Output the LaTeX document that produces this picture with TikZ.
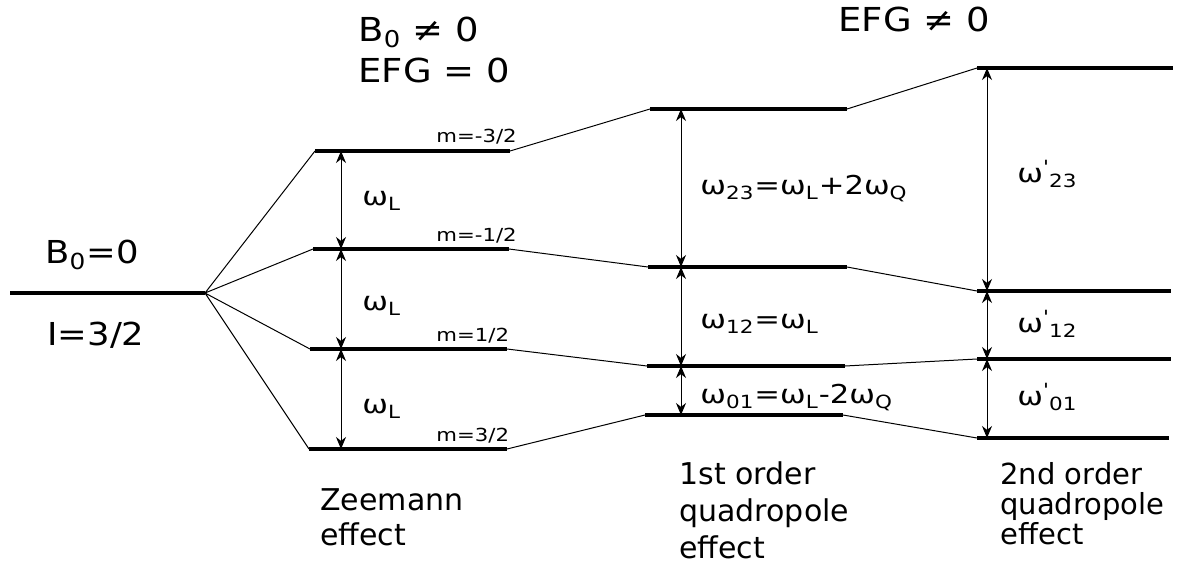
\documentclass[tikz,border=0pt]{standalone}
\usepackage{fontspec}
\setmainfont{DejaVu Sans}
\newfontfamily\headfont{DejaVu Sans}[FakeStretch=1.12]
\newfontfamily\freqfont{DejaVu Sans}[FakeStretch=1.18]
\usetikzlibrary{arrows.meta,calc,positioning}
\tikzset{level/.style={line width=2pt},
  split/.style={line width=0.5pt},
  gap/.style={<->, line width=0.5pt},
  head/.style={font=\headfont\fontsize{16.5}{20.5}\selectfont, anchor=base west, inner sep=0pt, align=left},
  spin/.style={font=\headfont\fontsize{15.8}{18}\selectfont, anchor=base west, inner sep=0pt},
  freq/.style={font=\freqfont\fontsize{13}{15}\selectfont, anchor=base west, inner sep=0pt},
  mlabel/.style={font=\freqfont\fontsize{9}{10}\selectfont, anchor=base west, inner sep=0pt},
  effect/.style={font=\fontsize{15}{17.5}\selectfont, anchor=north west, inner sep=0pt, align=left}}
\newcommand{\om}[1]{ω\textsubscript{#1}}
\newcommand{\omp}[1]{ω\textsuperscript{\textquotesingle}\textsubscript{#1}}

\begin{document}
\begin{tikzpicture}[x=0.5pt, y=-0.5pt, >={Stealth[length=6pt,width=5pt]}]
\useasboundingbox (0,0) rectangle (1182,567);
% level end points
\coordinate (g0) at (10,293); \coordinate (g1) at (205,293);
\coordinate (z1l) at (315,151); \coordinate (z1r) at (510,151);
\coordinate (z2l) at (313,249); \coordinate (z2r) at (509,249);
\coordinate (z3l) at (310,349); \coordinate (z3r) at (507,349);
\coordinate (z4l) at (309,449); \coordinate (z4r) at (507,449);
\coordinate (f1l) at (650,109); \coordinate (f1r) at (847,109);
\coordinate (f2l) at (648,267); \coordinate (f2r) at (847,267);
\coordinate (f3l) at (647,366); \coordinate (f3r) at (845,366);
\coordinate (f4l) at (645,415); \coordinate (f4r) at (843,415);
\coordinate (s1l) at (977,68); \coordinate (s1r) at (1173,68);
\coordinate (s2l) at (977,291); \coordinate (s2r) at (1171,291);
\coordinate (s3l) at (977,359); \coordinate (s3r) at (1171,359);
\coordinate (s4l) at (977,438); \coordinate (s4r) at (1169,438);
\coordinate (za) at (341,0); \coordinate (fa) at (681,0); \coordinate (sa) at (987,0);

\draw[level] (g0) -- (g1)
  (z1l) -- (z1r) (z2l) -- (z2r) (z3l) -- (z3r) (z4l) -- (z4r)
  (f1l) -- (f1r) (f2l) -- (f2r) (f3l) -- (f3r) (f4l) -- (f4r)
  (s1l) -- (s1r) (s2l) -- (s2r) (s3l) -- (s3r) (s4l) -- (s4r);
\draw[split] (g1) -- (z1l) (g1) -- (z2l) (g1) -- (z3l) (g1) -- (z4l)
  (z1r) -- (f1l) (z2r) -- (f2l) (z3r) -- (f3l) (z4r) -- (f4l)
  (f1r) -- (s1l) (f2r) -- (s2l) (f3r) -- (s3l) (f4r) -- (s4l);

\draw[gap] (za |- z1l) -- (za |- z2l);
\draw[gap] (za |- z2l) -- (za |- z3l);
\draw[gap] (za |- z3l) -- (za |- z4l);
\draw[gap] (fa |- f1l) -- (fa |- f2l);
\draw[gap] (fa |- f2l) -- (fa |- f3l);
\draw[gap] (fa |- f3l) -- (fa |- f4l);
\draw[gap] (sa |- s1l) -- (sa |- s2l);
\draw[gap] (sa |- s2l) -- (sa |- s3l);
\draw[gap] (sa |- s3l) -- (sa |- s4l);

\node[spin] (bzero) at (45,263) {B\textsubscript{0}=0};
\node[spin] (spinI) at (47,345) {I=3/2};
\node[head, anchor=north west] (zhead) at (358,17) {B\textsubscript{0} ≠ 0\\EFG = 0};
\node[head] (qhead) at (838,32) {EFG ≠ 0};

\node[mlabel] (m1) at (436,142) {m=-3/2};
\node[mlabel] (m2) at (436,241) {m=-1/2};
\node[mlabel] (m3) at (436,341) {m=1/2};
\node[mlabel] (m4) at (436,441) {m=3/2};

\node[freq] (zw1) at (362,205) {\om{L}};
\node[freq] (zw2) at (362,310) {\om{L}};
\node[freq] (zw3) at (362,413) {\om{L}};
\node[freq] (fw1) at (700,194) {\om{23}=\om{L}+2\om{Q}};
\node[freq] (fw2) at (700,328) {\om{12}=\om{L}};
\node[freq] (fw3) at (700,403) {\om{01}=\om{L}-2\om{Q}};
\node[freq] (sw1) at (1017,182) {\omp{23}};
\node[freq] (sw2) at (1017,332) {\omp{12}};
\node[freq] (sw3) at (1017,405) {\omp{01}};

\node[effect] (zcap) at (320,488) {Zeemann\\effect};
\node[effect, font=\fontsize{15}{18.5}\selectfont] (fcap) at (679,461) {1st order\\quadropole\\effect};
\node[effect, font=\fontsize{14.5}{15}\selectfont] (scap) at (1000,462) {2nd order\\quadropole\\effect};
\end{tikzpicture}
\end{document}
